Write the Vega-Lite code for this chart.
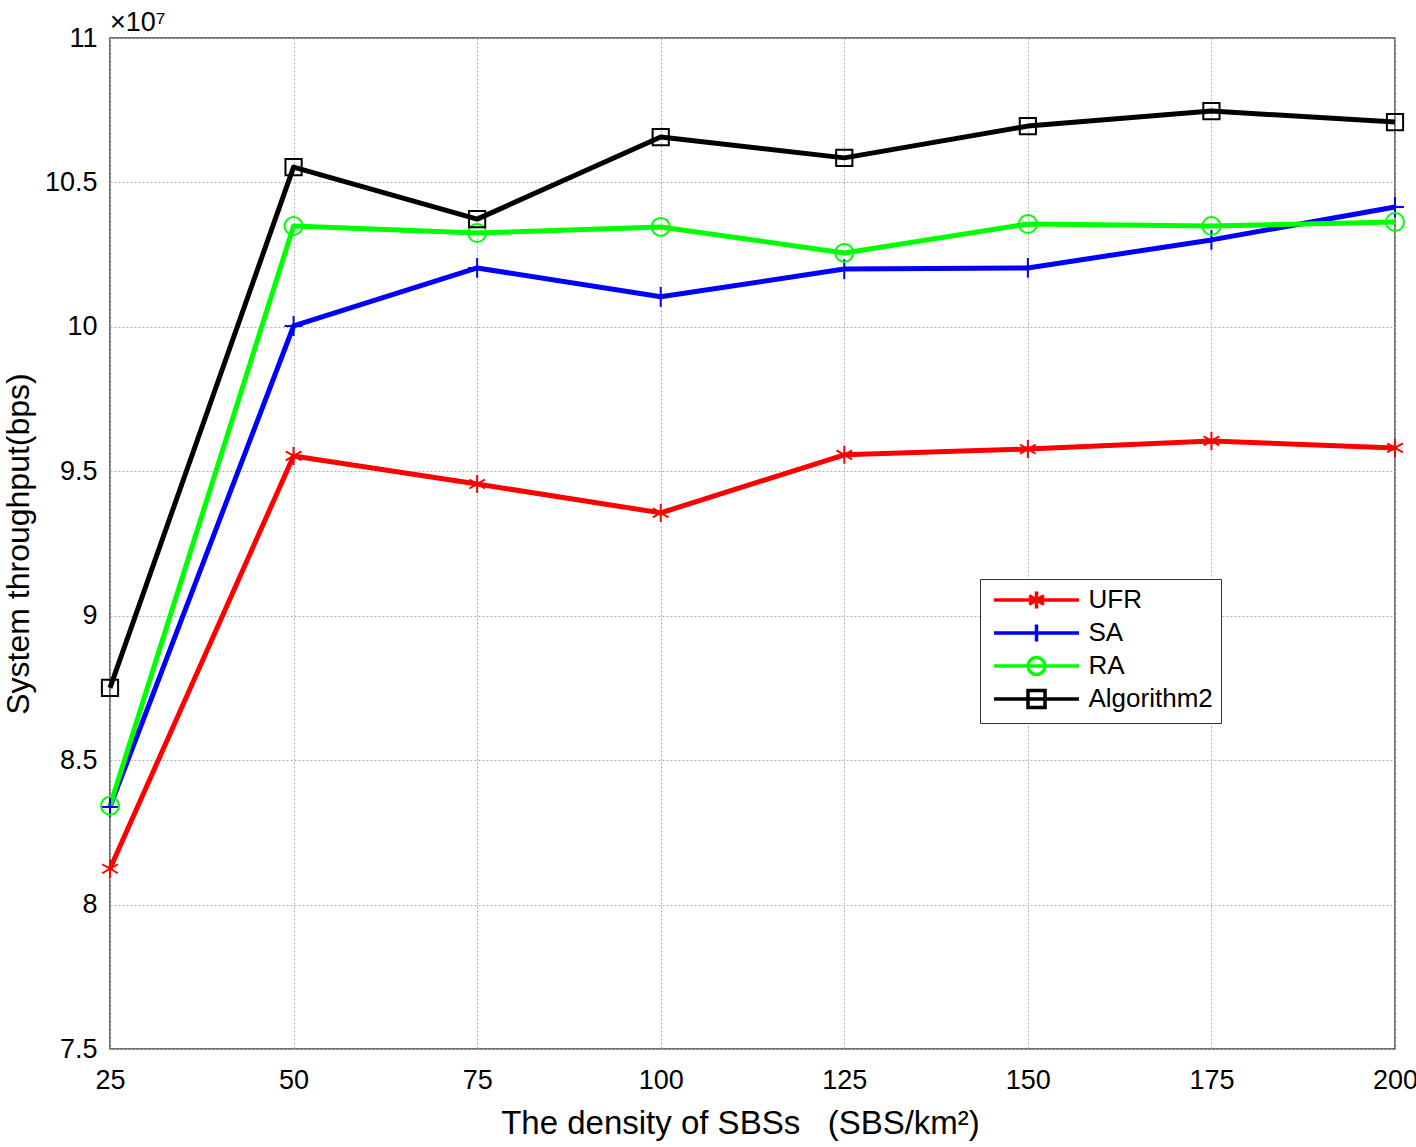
{
  "$schema": "https://vega.github.io/schema/vega-lite/v6.json",
  "autosize": {"type": "none"},
  "width": 1285,
  "height": 1011,
  "padding": {"left": 110, "top": 38, "right": 21, "bottom": 98},
  "background": "white",
  "title": {"text": "×10⁷", "anchor": "start", "frame": "group", "orient": "top", "offset": -13, "fontSize": 27, "fontWeight": "normal", "font": "Liberation Sans", "color": "#000"},
  "config": {
    "font": "Liberation Sans",
    "title": {"fontSize": 27, "fontWeight": "normal", "font": "Liberation Sans", "color": "#000"},
    "view": {"stroke": "#444", "strokeWidth": 1.5},
    "axis": {
      "labelFont": "Liberation Sans", "titleFont": "Liberation Sans",
      "labelFontSize": 27, "titleFontSize": 32, "labelColor": "#000", "titleColor": "#000",
      "titleFontWeight": "normal", "domain": false, "ticks": false, "labelFlush": false,
      "grid": true, "gridColor": "#b0b0b0", "gridDash": [2, 2], "gridWidth": 1
    },
    "legend": {
      "title": null, "orient": "none", "legendX": 870, "legendY": 541,
      "direction": "vertical",
      "fillColor": "white", "strokeColor": "#333", "padding": 8,
      "labelFontSize": 26, "labelFont": "Liberation Sans", "labelColor": "#000",
      "symbolSize": 289, "symbolOffset": 35.5, "labelOffset": 39, "rowPadding": 1,
      "symbolStrokeWidth": 3.5, "symbolFillColor": "transparent"
    }
  },
  "data": {"values": [
    {"density": 25, "throughput": 8.124, "method": "UFR"},
    {"density": 50, "throughput": 9.553, "method": "UFR"},
    {"density": 75, "throughput": 9.456, "method": "UFR"},
    {"density": 100, "throughput": 9.356, "method": "UFR"},
    {"density": 125, "throughput": 9.557, "method": "UFR"},
    {"density": 150, "throughput": 9.577, "method": "UFR"},
    {"density": 175, "throughput": 9.605, "method": "UFR"},
    {"density": 200, "throughput": 9.581, "method": "UFR"},
    {"density": 25, "throughput": 8.338, "method": "SA"},
    {"density": 50, "throughput": 10.003, "method": "SA"},
    {"density": 75, "throughput": 10.204, "method": "SA"},
    {"density": 100, "throughput": 10.104, "method": "SA"},
    {"density": 125, "throughput": 10.200, "method": "SA"},
    {"density": 150, "throughput": 10.204, "method": "SA"},
    {"density": 175, "throughput": 10.301, "method": "SA"},
    {"density": 200, "throughput": 10.415, "method": "SA"},
    {"density": 25, "throughput": 8.342, "method": "RA"},
    {"density": 50, "throughput": 10.349, "method": "RA"},
    {"density": 75, "throughput": 10.325, "method": "RA"},
    {"density": 100, "throughput": 10.346, "method": "RA"},
    {"density": 125, "throughput": 10.256, "method": "RA"},
    {"density": 150, "throughput": 10.356, "method": "RA"},
    {"density": 175, "throughput": 10.349, "method": "RA"},
    {"density": 200, "throughput": 10.363, "method": "RA"},
    {"density": 25, "throughput": 8.75, "method": "Algorithm2"},
    {"density": 50, "throughput": 10.553, "method": "Algorithm2"},
    {"density": 75, "throughput": 10.373, "method": "Algorithm2"},
    {"density": 100, "throughput": 10.657, "method": "Algorithm2"},
    {"density": 125, "throughput": 10.585, "method": "Algorithm2"},
    {"density": 150, "throughput": 10.695, "method": "Algorithm2"},
    {"density": 175, "throughput": 10.747, "method": "Algorithm2"},
    {"density": 200, "throughput": 10.709, "method": "Algorithm2"}
  ]},
  "encoding": {
    "x": {"field": "density", "type": "quantitative",
      "scale": {"domain": [25, 200], "nice": false, "zero": false},
      "axis": {"values": [25, 50, 75, 100, 125, 150, 175, 200], "title": "The density of SBSs\u00a0\u00a0\u00a0(SBS/km²)", "titleFontSize": 33, "titleX": 630, "labelPadding": 18, "titlePadding": 14}},
    "y": {"field": "throughput", "type": "quantitative",
      "scale": {"domain": [7.5, 11], "nice": false, "zero": false},
      "axis": {"values": [7.5, 8, 8.5, 9, 9.5, 10, 10.5, 11], "format": "~g", "title": "System throughput(bps)", "labelPadding": 13, "titlePadding": 9}}
  },
  "layer": [
    {"mark": {"type": "line", "strokeWidth": 5, "strokeJoin": "round"},
      "encoding": {
        "color": {"field": "method", "type": "nominal",
          "scale": {"domain": ["UFR", "SA", "RA", "Algorithm2"], "range": ["#ff0000", "#0000ff", "#00ff00", "#000000"]},
          "legend": null}
      }
    },
    {"mark": {"type": "point", "filled": false, "strokeWidth": 2, "size": 324, "opacity": 1},
      "encoding": {
        "color": {"field": "method", "type": "nominal",
          "scale": {"domain": ["UFR", "SA", "RA", "Algorithm2"], "range": ["#ff0000", "#0000ff", "#00ff00", "#000000"]},
          "legend": null},
        "shape": {"field": "method", "type": "nominal",
          "scale": {"domain": ["UFR", "SA", "RA", "Algorithm2"], "range": [
            "M0,-1L0,1M-0.87,-0.5L0.87,0.5M-0.87,0.5L0.87,-0.5",
            "M0,-1.1L0,1.1M-1,0L1,0",
            "circle",
            "M-0.9,-0.9L0.9,-0.9L0.9,0.9L-0.9,0.9Z"]},
          "legend": null}
      }
    },
    {"transform": [{"filter": "datum.density < 0"}],
      "mark": {"type": "point", "filled": false, "strokeWidth": 3.5, "size": 289, "opacity": 1},
      "encoding": {
        "color": {"field": "method", "type": "nominal",
          "scale": {"domain": ["UFR", "SA", "RA", "Algorithm2"], "range": ["#ff0000", "#0000ff", "#00ff00", "#000000"]},
          "legend": {}},
        "shape": {"field": "method", "type": "nominal",
          "scale": {"domain": ["UFR", "SA", "RA", "Algorithm2"], "range": [
            "M-5,0L5,0M0,-1L0,1M-0.87,-0.5L0.87,0.5M-0.87,0.5L0.87,-0.5",
            "M-5,0L5,0M0,-1L0,1",
            "M-5,0L5,0M1,0A1,1 0 1,1 -1,0A1,1 0 1,1 1,0",
            "M-5,0L5,0M-1,-1L1,-1L1,1L-1,1Z"]},
          "legend": {}}
      }
    }
  ],
  "resolve": {"scale": {"color": "independent", "shape": "independent"}, "legend": {"color": "independent", "shape": "independent"}}
}
